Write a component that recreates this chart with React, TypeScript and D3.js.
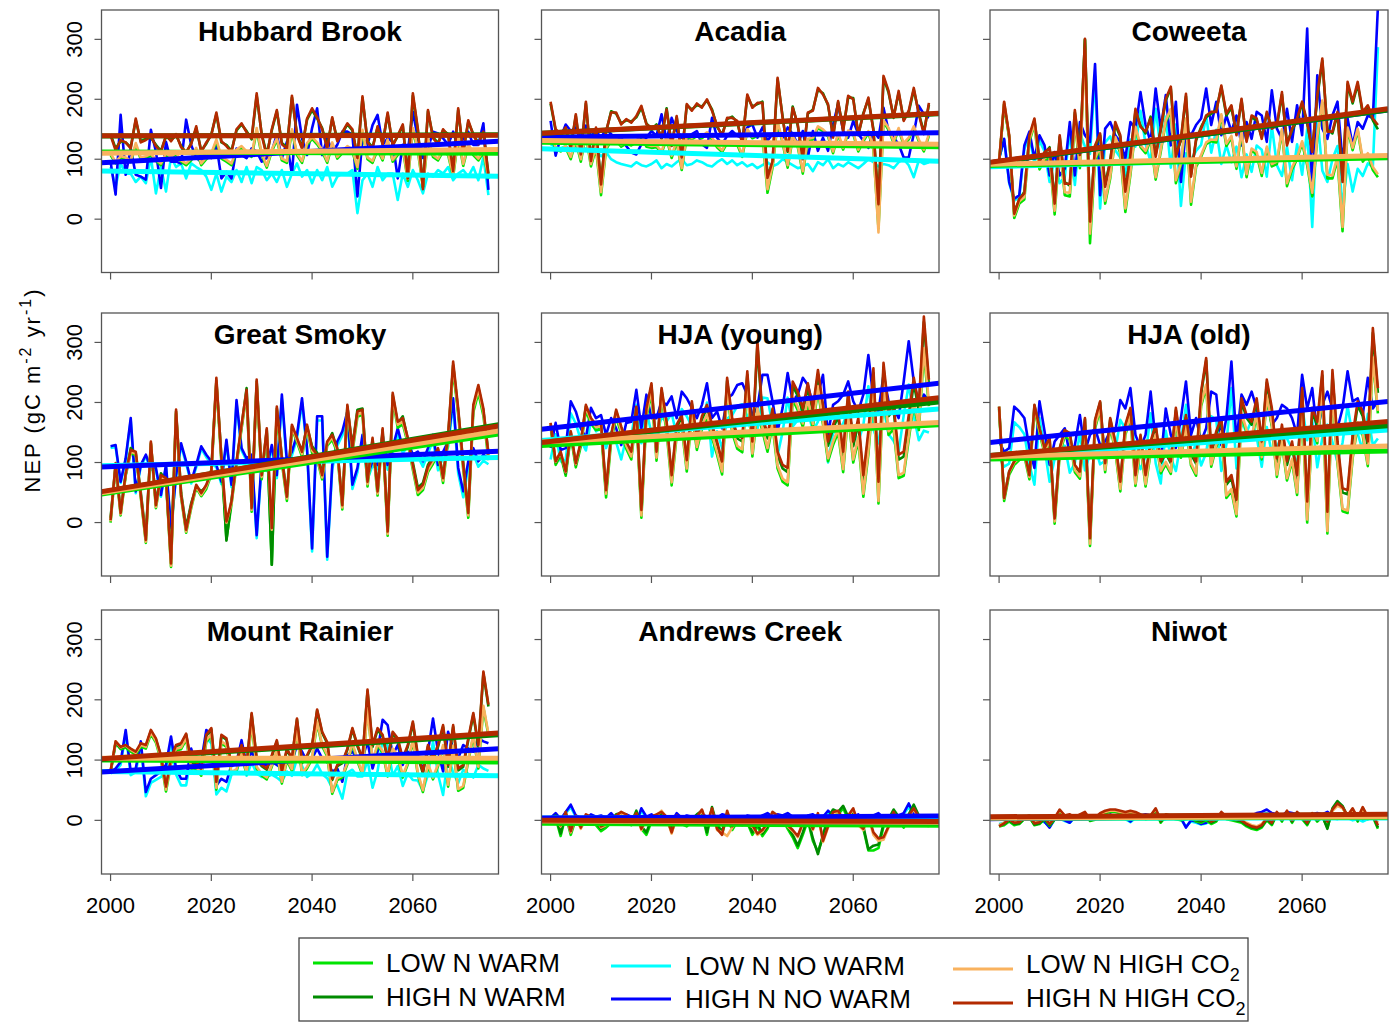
import React from 'react';
import * as d3 from 'd3';

const W = 1396;
const H = 1022;
const FONT = '"Liberation Sans", Arial, Helvetica, sans-serif';

const years = d3.range(2000, 2076);
const scenarios = ['LOW N WARM', 'HIGH N WARM', 'LOW N NO WARM', 'HIGH N NO WARM', 'LOW N HIGH CO2', 'HIGH N HIGH CO2'];
const scenarioColors = ['#00E400', '#008B00', '#00FFFF', '#0000FF', '#F9B25E', '#B32A00'];
// thin lines and trends are drawn in this order (last on top)
const drawOrder = [2, 3, 0, 1, 4, 5];

const xTicks = [2000, 2020, 2040, 2060];
const yTicks = [0, 100, 200, 300];

// series order in every site: same as scenarios
const hubbardBrook = [
  [107,93,102,100,95,124,100,102,106,97,90,107,101,108,96,90,98,116,90,100,107,130,101,96,90,113,119,110,104,148,107,86,113,132,98,94,147,107,94,124,134,125,113,94,125,101,110,119,113,84,146,100,94,116,98,130,96,107,118,64,149,113,53,132,104,98,113,107,71,134,89,122,107,98,111,67],
  [142,118,130,128,120,165,130,134,136,124,114,138,132,140,122,110,127,152,114,126,142,175,128,124,114,148,158,147,133,206,142,108,148,180,127,120,203,142,120,166,182,168,152,120,168,132,143,158,148,104,202,130,120,153,127,175,124,138,156,72,206,148,54,180,137,127,148,142,82,182,112,162,142,127,144,76],
  [87,54,93,76,76,62,71,60,104,43,87,46,104,87,93,68,93,87,82,71,49,76,46,71,62,82,62,87,60,87,82,65,76,62,82,54,76,93,71,82,60,82,65,87,54,71,76,76,82,10,65,76,54,87,65,76,76,32,76,54,82,65,43,76,71,82,76,87,65,76,82,71,87,65,104,40],
  [96,41,174,74,118,74,71,66,149,113,52,129,96,96,93,166,124,102,96,113,102,124,68,79,68,118,107,102,118,113,96,102,113,141,102,129,74,191,135,107,152,185,107,135,113,124,146,146,141,38,135,124,157,174,124,135,129,68,124,113,179,135,102,118,146,143,135,124,146,118,135,146,124,124,160,49],
  [110,95,105,103,97,127,103,105,109,99,93,110,104,111,98,93,101,119,93,103,110,133,104,99,93,116,122,113,107,152,110,89,116,135,101,97,150,110,97,127,137,128,116,97,128,104,113,122,116,87,149,103,97,119,101,133,99,110,121,67,152,116,56,135,107,101,116,110,74,137,92,125,110,101,114,70],
  [140,115,132,128,118,168,128,132,138,122,112,140,130,142,120,112,125,155,112,128,140,178,130,122,112,150,160,145,135,210,140,105,150,182,125,118,206,140,118,168,185,170,150,118,170,130,145,160,150,102,205,128,118,155,125,178,122,140,158,68,210,150,50,182,135,125,150,140,80,185,110,165,140,125,146,72],
];
const hubbardTrend = [[112, 110], [139, 141], [80, 72], [95, 129], [110, 116], [139, 140]];

const acadia = [
  [141,117,113,119,100,130,96,141,88,118,40,116,131,131,121,126,123,128,137,121,119,120,110,134,102,128,82,138,133,139,135,142,133,120,112,127,127,124,104,147,135,139,139,44,86,160,127,86,135,121,76,131,133,152,147,138,110,141,116,145,142,113,130,144,116,-15,162,149,127,149,124,133,152,130,113,139],
  [193,148,140,150,120,172,110,193,100,150,62,145,180,176,160,165,163,170,186,160,150,158,134,185,124,170,106,190,183,190,188,198,183,154,141,167,171,162,128,205,188,192,196,72,94,233,171,112,188,156,103,176,183,216,210,190,139,195,150,203,202,140,177,200,150,30,236,211,171,211,166,178,216,177,145,191],
  [125,120,118,122,115,120,112,118,110,115,105,112,100,95,92,90,88,95,90,88,92,98,85,92,88,95,100,90,92,98,95,90,88,95,100,92,98,90,95,88,92,85,90,95,88,92,100,95,90,85,88,92,80,95,90,100,85,92,88,95,90,85,92,100,95,88,92,90,85,95,100,90,70,98,92,95],
  [164,106,136,158,147,153,136,156,139,147,136,150,142,131,136,122,111,108,125,136,147,139,175,131,169,147,136,131,142,147,125,119,169,136,125,139,147,139,136,153,158,136,153,131,142,147,136,153,142,125,147,103,147,114,136,114,158,192,147,136,164,142,131,119,147,136,186,147,136,125,103,103,142,189,175,169],
  [144,120,116,122,104,133,100,144,92,122,45,119,134,134,124,129,126,131,140,124,122,123,113,137,106,131,85,141,136,142,138,145,136,123,115,130,130,127,108,150,138,142,142,50,90,163,130,90,138,124,80,134,136,155,150,141,113,144,119,148,145,116,133,147,119,-22,165,152,130,152,127,136,155,133,116,142],
  [196,150,142,153,117,175,108,196,97,153,58,147,178,178,158,167,161,172,189,158,153,156,136,183,122,172,103,192,181,193,186,200,181,156,139,169,169,164,125,208,186,194,194,69,97,236,169,114,186,158,100,178,181,219,208,192,136,197,147,206,200,142,175,203,147,25,239,214,169,214,164,181,219,175,142,194],
];
const acadiaTrend = [[128, 121], [144, 175], [117, 97], [137, 144], [131, 125], [144, 176]];

const coweeta = [
  [94,192,135,2,26,33,130,157,83,98,104,8,124,40,38,162,85,299,-40,98,118,26,68,134,110,12,74,151,120,110,132,66,112,162,180,60,90,165,24,87,104,125,130,128,172,122,136,84,145,70,115,108,72,118,88,92,147,55,83,100,127,90,38,135,195,68,68,100,-20,150,115,148,96,106,82,70],
  [94,192,138,12,32,46,137,165,98,110,120,30,137,62,56,178,110,300,0,120,140,58,98,158,137,50,104,180,156,143,171,108,148,198,218,108,131,205,75,131,154,170,176,182,220,173,186,143,198,132,170,165,137,176,154,154,208,127,148,165,193,159,115,203,264,150,143,176,66,225,193,225,176,187,165,150],
  [101,133,60,31,36,117,139,93,131,113,62,100,60,70,147,57,144,121,109,238,18,128,138,115,103,73,133,121,181,125,96,184,116,171,86,158,22,110,98,114,124,173,111,149,92,123,95,121,70,108,79,123,116,71,156,90,72,121,65,125,74,150,-13,171,81,62,100,122,21,92,46,84,72,93,87,287],
  [101,134,62,34,40,123,146,101,140,123,73,112,73,84,162,73,162,140,129,259,40,151,162,140,129,101,162,151,212,157,129,218,151,207,123,196,62,151,140,157,168,218,157,196,140,173,146,173,123,162,134,179,173,129,215,151,134,184,129,190,140,318,40,240,151,134,173,196,96,168,123,162,151,173,168,354],
  [96,195,138,6,30,37,133,160,87,102,107,14,127,45,44,165,89,282,-24,102,121,31,72,137,114,18,78,154,123,114,135,70,116,165,184,65,94,168,29,91,107,128,133,132,175,126,139,88,148,75,118,112,77,121,92,96,150,60,87,103,130,95,44,138,198,74,73,105,-13,153,119,151,100,110,87,75],
  [96,196,140,9,34,43,140,168,96,112,118,26,140,59,59,182,107,301,-4,123,143,54,96,162,140,46,107,184,154,146,168,104,151,201,221,104,134,209,71,134,151,173,179,179,223,176,190,140,201,129,173,168,134,179,151,157,212,123,151,168,196,162,112,207,268,146,146,179,62,229,196,229,179,190,168,157],
];
const coweetaTrend = [[90, 102], [96, 180], [88, 104], [96, 180], [92, 106], [97, 182]];

const greatSmoky = [
  [0,94,12,78,116,112,42,-34,130,24,74,70,-74,181,42,-17,24,58,44,56,80,232,100,-28,30,96,156,214,18,230,72,150,-70,186,100,36,156,134,110,156,116,106,72,128,138,116,22,187,116,176,180,60,133,45,148,-22,206,158,164,132,88,46,54,84,98,114,66,136,256,180,88,8,184,216,178,104],
  [8,96,20,80,124,115,50,-22,132,32,82,70,-60,185,50,-8,32,60,52,60,88,236,110,-30,38,100,160,224,28,235,82,154,-70,190,110,46,160,138,120,160,127,116,82,132,149,121,32,193,127,188,190,72,138,56,154,-12,212,165,177,138,100,58,66,96,110,121,78,143,262,186,100,20,192,225,186,116],
  [124,126,66,104,170,49,93,110,88,88,43,93,-12,76,128,98,65,92,123,109,98,92,64,133,59,199,120,103,108,-26,97,86,124,74,206,96,112,140,200,118,-48,170,170,-62,89,128,145,178,56,84,138,72,95,89,138,88,116,149,116,127,105,110,93,115,137,87,109,126,198,82,42,93,114,93,103,97],
  [127,129,68,107,174,52,96,113,91,91,46,96,-9,79,132,102,68,96,127,113,102,96,68,138,63,204,124,107,113,-21,102,91,129,79,213,102,118,146,207,124,-43,177,177,-57,96,135,152,185,63,91,146,79,102,96,146,96,124,157,124,135,113,118,102,124,146,96,118,135,207,91,52,102,124,102,113,107],
  [2,96,14,80,118,115,44,-32,133,26,76,72,-72,184,44,-15,26,60,46,60,82,236,104,0,32,99,159,217,21,233,76,153,-12,189,104,40,159,137,114,159,120,109,75,131,142,120,25,191,120,180,183,64,137,48,152,-19,210,163,168,136,92,50,58,88,102,119,70,141,262,185,92,12,190,222,184,110],
  [4,99,16,82,121,118,46,-29,135,29,79,74,-68,188,46,-12,29,63,49,63,85,241,107,2,35,102,163,221,24,238,79,157,-9,193,107,43,163,141,118,163,124,113,79,135,146,124,29,196,124,185,188,68,141,52,157,-15,216,168,174,141,96,54,63,93,107,124,74,146,268,190,96,16,196,229,190,113],
];
const greatSmokyTrend = [[50, 145], [53, 160], [95, 108], [93, 118], [52, 150], [54, 158]];

const hjaYoung = [
  [160,96,112,78,145,92,127,186,165,154,156,42,135,176,148,123,105,180,8,175,216,103,208,151,62,145,160,85,182,121,156,174,142,113,80,217,150,123,117,226,110,184,152,118,162,90,68,62,205,187,159,200,158,221,163,102,129,150,84,182,100,137,43,114,219,32,227,146,156,74,78,138,198,154,282,194],
  [163,100,115,82,150,96,132,193,172,160,163,50,143,185,157,132,114,190,16,186,228,114,220,164,75,158,175,100,198,136,172,191,158,130,97,236,168,140,135,246,129,296,173,140,184,112,90,84,228,211,183,225,183,247,189,128,156,177,110,210,127,166,70,144,249,60,258,177,188,105,110,170,232,187,334,229],
  [105,147,102,104,182,165,137,120,170,152,157,124,151,134,105,142,144,196,132,187,148,147,175,168,182,145,189,177,161,143,165,200,110,152,124,173,179,194,197,177,143,154,208,207,163,112,151,208,160,171,198,186,152,168,200,100,149,154,165,186,152,135,162,227,155,132,192,147,136,118,178,230,177,137,153,150],
  [124,166,121,124,202,185,157,141,191,174,179,146,174,157,129,166,168,221,157,213,174,174,202,196,210,174,218,207,191,174,196,232,174,185,157,207,213,229,232,213,179,191,246,246,202,152,191,249,202,213,241,229,196,213,246,146,196,202,213,235,202,185,213,279,207,185,246,202,191,174,235,302,235,196,213,202],
  [166,101,117,84,150,97,132,192,170,159,161,48,140,182,153,128,110,185,12,180,222,108,213,157,67,150,166,90,188,126,162,180,147,118,85,223,156,128,122,232,115,190,158,124,168,95,73,67,211,193,165,206,164,227,169,107,135,156,89,188,105,143,48,120,225,36,233,152,162,79,83,144,205,160,290,200],
  [166,102,118,85,152,99,135,196,174,163,166,54,146,188,160,135,118,193,21,190,232,118,224,168,79,163,179,104,202,141,177,196,163,135,102,241,174,146,141,252,135,302,179,146,190,118,96,91,235,218,190,232,190,254,196,135,163,185,118,218,135,174,79,152,257,68,266,185,196,113,118,179,241,196,343,238],
];
const hjaYoungTrend = [[129, 162], [135, 199], [138, 188], [157, 230], [135, 166], [135, 206]];

const hjaOld = [
  [189,36,80,96,104,111,72,188,149,115,132,-2,114,144,138,84,73,161,-39,157,188,84,159,119,52,146,174,61,128,60,116,143,82,97,81,169,108,156,95,78,194,226,93,126,148,41,52,10,179,150,139,177,105,207,160,76,131,70,102,46,190,0,156,132,216,-18,217,98,19,16,107,163,145,94,271,182],
  [193,41,85,102,110,118,78,195,156,123,140,6,123,153,148,94,83,172,-28,169,200,97,172,133,66,160,188,76,143,76,132,160,99,115,99,187,126,175,114,98,214,270,114,148,170,63,74,33,202,174,163,202,130,233,185,101,157,96,129,73,218,28,184,161,245,11,247,128,50,47,139,195,177,127,316,216],
  [110,93,98,167,159,147,97,63,174,124,68,106,117,128,83,99,149,87,115,126,97,103,120,119,171,156,190,111,89,110,182,99,65,153,108,86,135,196,107,134,95,116,177,171,86,130,224,90,168,150,171,143,93,159,114,125,146,140,123,94,194,137,170,92,141,163,134,100,133,194,144,148,120,181,129,140],
  [135,118,124,193,185,174,124,91,202,152,96,135,146,157,113,129,179,118,146,157,129,135,152,152,204,190,224,146,124,146,218,135,102,190,146,124,174,235,146,174,135,157,218,213,129,174,268,135,213,196,218,190,140,207,163,174,196,190,174,146,246,190,224,146,196,218,190,157,190,252,202,207,179,241,190,202],
  [193,40,84,100,108,115,76,192,153,119,136,2,118,148,142,88,77,165,-35,161,192,88,163,123,56,150,178,65,132,64,120,147,86,101,85,173,112,160,99,82,198,230,97,130,152,45,56,14,183,154,143,181,109,211,164,80,135,74,106,50,194,5,160,136,220,-14,221,102,23,20,111,167,149,98,275,186],
  [193,41,85,102,110,118,79,196,157,124,141,7,124,154,149,96,85,174,-26,171,202,99,174,135,68,163,191,79,146,79,135,163,102,118,102,191,130,179,118,102,218,274,118,152,174,68,79,38,207,179,168,207,135,238,191,107,163,102,135,79,224,35,191,168,252,18,254,135,57,54,146,202,185,135,324,224],
];
const hjaOldTrend = [[106, 119], [113, 160], [110, 153], [135, 200], [110, 127], [113, 167]];

const mountRainier = [
  [79,128,118,121,114,109,122,119,143,129,100,48,94,116,118,134,86,86,74,130,140,51,128,122,77,82,109,76,161,86,74,68,89,114,61,99,82,148,75,86,102,161,123,106,44,67,71,93,126,98,75,189,96,124,112,73,116,105,71,93,131,75,47,91,68,90,122,56,121,49,54,98,139,86,187,141],
  [80,129,120,123,117,112,126,123,148,134,106,54,101,123,126,142,95,95,84,140,151,62,140,134,90,95,123,90,176,101,90,84,106,131,79,117,101,167,95,106,123,182,145,128,67,90,95,117,151,123,101,214,122,150,139,100,144,133,100,122,161,105,78,122,100,122,155,89,155,83,89,133,175,122,244,189],
  [78,82,92,144,75,80,124,40,62,67,72,83,130,76,58,58,107,80,84,136,128,43,54,48,76,80,116,74,96,78,72,72,76,71,64,81,74,102,90,72,78,93,77,70,54,58,36,79,84,73,73,100,54,82,134,124,74,90,57,78,67,66,49,76,131,76,42,107,79,62,84,77,71,92,86,82],
  [81,86,97,150,81,86,131,47,69,75,81,92,139,86,69,69,119,92,97,150,142,58,69,64,92,97,133,92,114,97,92,92,97,92,86,103,97,125,114,97,103,119,103,97,81,86,64,108,114,103,103,131,86,114,167,158,108,125,92,114,103,103,86,114,169,114,81,147,119,103,125,119,114,136,131,128],
  [82,131,121,124,117,112,125,122,146,132,103,51,97,119,121,137,89,89,77,133,143,54,131,125,80,85,112,79,164,89,77,71,92,117,64,102,85,151,78,89,105,164,126,109,47,70,74,96,129,101,78,186,99,127,115,76,119,108,74,96,134,78,50,94,71,93,125,59,124,52,57,101,142,89,190,144],
  [82,131,122,125,119,114,128,125,150,136,108,56,103,125,128,144,97,97,86,142,153,64,142,136,92,97,125,92,178,103,92,86,108,133,81,119,103,169,97,108,125,184,147,130,69,92,97,119,153,125,103,217,125,153,142,103,147,136,103,125,164,108,81,125,103,125,158,92,158,86,92,136,178,125,247,192],
];
const mountRainierTrend = [[100, 97], [102, 141], [81, 74], [81, 118], [103, 103], [103, 144]];

const andrewsCreek = [
  [-2,4,-26,8,-24,2,-12,0,-2,-8,-18,-12,-4,6,8,2,-8,12,-14,-24,-2,4,6,0,-18,2,-6,-10,-2,6,12,-24,18,-12,-22,6,-16,-2,-8,-4,-24,-10,-26,-14,8,0,2,-14,-28,-46,-24,0,-34,-52,-28,0,14,10,20,2,8,-4,-14,-50,-50,-46,-10,-2,14,2,-12,6,22,4,-4,-10],
  [2,8,-22,12,-20,6,-8,4,2,-4,-14,-8,0,10,12,6,-4,16,-10,-20,2,8,10,4,-14,6,-2,-6,2,10,16,-20,22,-8,-18,10,-12,2,-4,0,-20,-6,-22,-10,12,4,6,-10,-24,-42,-20,4,-30,-56,-24,4,18,14,24,6,12,0,-10,-48,-42,-40,-6,2,18,6,-8,10,26,8,0,-6],
  [2,10,0,12,22,6,2,0,8,4,6,2,10,0,6,8,4,-6,16,4,8,2,6,4,-4,10,2,6,4,2,8,4,6,2,8,6,4,2,0,6,4,2,6,10,4,8,6,10,4,2,-4,6,8,2,4,14,6,8,2,6,4,8,-6,4,6,10,2,4,8,6,10,22,8,4,6,4],
  [4,12,2,14,26,8,4,2,10,6,8,4,12,2,8,10,6,-4,20,6,10,4,8,6,-2,12,4,8,6,4,10,6,8,4,10,8,6,4,2,8,6,4,8,12,6,10,8,12,6,4,-2,8,10,4,6,16,8,10,4,8,6,10,-4,6,8,12,4,6,10,8,12,28,10,6,8,6],
  [-2,2,-10,12,-20,6,-14,8,4,0,-12,-8,0,6,12,8,-4,10,-16,2,4,8,16,4,-22,6,0,-2,-6,4,16,-8,18,-16,-20,-26,-12,2,-2,-8,-10,-24,-18,-6,12,6,-2,-10,-18,-28,-6,4,-16,10,-36,-12,12,14,0,6,18,-8,-16,6,-24,-34,-32,-12,12,-6,-8,6,18,4,-4,-6],
  [0,5,-8,14,-18,8,-12,10,6,2,-10,-6,2,8,14,10,-2,12,-14,4,6,10,14,6,-20,8,2,0,-4,6,18,-6,20,-14,-24,16,-10,4,0,-6,-8,-22,-16,-4,14,8,0,-8,-16,-26,-4,6,-14,12,-34,-10,14,16,2,8,20,-6,-14,8,-20,-30,-28,-10,14,-4,-6,8,20,6,-2,-4],
];
const andrewsCreekTrend = [[-5, -8], [-2, -4], [4, 5], [4, 7], [-1, -3], [0, -2]];

const niwot = [
  [-10,-8,-2,-8,-6,2,5,-8,-6,2,-9,1,14,5,7,2,7,11,-1,1,8,12,14,14,12,10,12,10,6,2,4,16,-4,6,4,2,0,2,4,-2,-4,0,-6,-2,10,2,0,-2,-4,-10,-14,-16,-12,0,-8,10,-2,12,-4,10,2,-8,8,-2,6,-12,18,30,22,4,16,-2,18,2,6,-14],
  [-8,-6,0,-6,-5,3,6,-7,-5,3,-8,2,16,6,8,3,8,12,0,2,10,14,16,16,14,12,14,12,8,4,6,18,-2,8,6,4,2,4,6,0,-2,2,-4,0,12,4,2,0,-2,-8,-12,-14,-10,2,-6,12,0,14,-2,12,4,-6,10,0,8,-14,20,32,24,6,18,0,20,4,8,-12],
  [-6,-4,1,2,3,3,5,1,-1,-3,-10,1,3,-1,-4,5,5,3,5,6,6,4,8,4,6,2,-3,4,6,8,6,4,0,2,6,4,2,-10,-2,-4,-7,-5,0,4,6,8,8,2,4,8,6,9,10,12,8,6,4,10,8,6,4,2,6,8,6,10,4,2,6,4,0,2,-2,2,4,2],
  [-8,-6,0,2,4,4,6,2,0,-2,-12,2,4,0,-4,6,6,4,6,8,8,6,10,6,8,4,-2,6,8,10,8,6,2,4,8,6,4,-12,0,-2,-6,-4,2,6,8,10,10,4,6,10,8,12,14,18,12,10,8,14,12,10,8,6,10,12,10,14,8,6,10,8,4,6,2,6,8,6],
  [-8,-4,2,-3,-2,5,7,-4,-2,5,-5,4,16,8,9,5,9,12,2,4,10,14,16,16,14,12,14,12,9,6,8,18,1,9,7,6,4,6,7,2,1,4,-1,2,12,6,4,2,1,-4,-8,-10,-6,4,-2,12,2,14,1,12,6,-2,10,2,9,0,16,24,20,8,18,4,18,6,9,-4],
  [-10,-5,2,-4,-3,5,8,-5,-3,5,-6,4,18,8,10,5,10,14,2,4,12,16,18,18,16,14,16,14,10,6,8,20,0,10,8,6,4,6,8,2,0,4,-2,2,14,6,4,2,0,-6,-10,-12,-8,4,-4,14,2,16,0,14,6,-4,12,2,10,-2,18,28,22,8,20,4,22,6,10,-8],
];
const niwotTrend = [[4, 5], [5, 9], [3, 4], [3, 9], [4, 6], [6, 10]];

const sites = [
  { name: 'Hubbard Brook', series: hubbardBrook, trend: hubbardTrend },
  { name: 'Acadia', series: acadia, trend: acadiaTrend },
  { name: 'Coweeta', series: coweeta, trend: coweetaTrend },
  { name: 'Great Smoky', series: greatSmoky, trend: greatSmokyTrend },
  { name: 'HJA (young)', series: hjaYoung, trend: hjaYoungTrend },
  { name: 'HJA (old)', series: hjaOld, trend: hjaOldTrend },
  { name: 'Mount Rainier', series: mountRainier, trend: mountRainierTrend },
  { name: 'Andrews Creek', series: andrewsCreek, trend: andrewsCreekTrend },
  { name: 'Niwot', series: niwot, trend: niwotTrend },
];

// panel boxes
const colLeft = [101.5, 541.5, 990];
const colRight = [498.5, 939, 1388];
const rowTop = [10, 313, 610];
const rowBottom = [272.5, 576, 874];
const xDomain = [1998.2, 2077];
const yDomain = [-89, 349];

type Site = typeof sites[number];

function Panel({ site, idx }: { site: Site; idx: number }) {
  const col = idx % 3;
  const row = Math.floor(idx / 3);
  const x = d3.scaleLinear().domain(xDomain).range([colLeft[col], colRight[col]]);
  const y = d3.scaleLinear().domain(yDomain).range([rowBottom[row], rowTop[row]]);
  const line = d3.line<number>().x((_, i) => x(years[i])).y(d => y(d));
  const clipId = `clip-${idx}`;
  const left = colLeft[col];
  const top = rowTop[row];
  const bottom = rowBottom[row];
  const right = colRight[col];

  return (
    <g>
      <defs>
        <clipPath id={clipId}>
          <rect x={left} y={top} width={right - left} height={bottom - top} />
        </clipPath>
      </defs>
      <g clipPath={`url(#${clipId})`} fill="none" strokeLinejoin="round">
        {drawOrder.map(s => (
          <path key={`s${s}`} d={line(site.series[s]) || ''} stroke={scenarioColors[s]} strokeWidth={2.6} />
        ))}
        {drawOrder.map(s => {
          const tr = d3.scaleLinear().domain([2000, 2075]).range(site.trend[s]);
          return (
            <line key={`t${s}`} x1={x(xDomain[0])} x2={x(xDomain[1])}
              y1={y(tr(xDomain[0]))} y2={y(tr(xDomain[1]))}
              stroke={scenarioColors[s]} strokeWidth={5} />
          );
        })}
      </g>
      <rect x={left} y={top} width={right - left} height={bottom - top} fill="none" stroke="#555" strokeWidth={1.3} />
      {yTicks.map(t => (
        <line key={`yt${t}`} x1={left - 7} x2={left} y1={y(t)} y2={y(t)} stroke="#555" strokeWidth={1.2} />
      ))}
      {xTicks.map(t => (
        <line key={`xt${t}`} x1={x(t)} x2={x(t)} y1={bottom} y2={bottom + 7} stroke="#555" strokeWidth={1.2} />
      ))}
      {col === 0 && yTicks.map(t => (
        <text key={`yl${t}`} transform={`translate(${left - 20},${y(t)}) rotate(-90)`} textAnchor="middle"
          fontSize={22} fontFamily={FONT} fill="#000">{t}</text>
      ))}
      {row === 2 && xTicks.map(t => (
        <text key={`xl${t}`} x={x(t)} y={bottom + 39} textAnchor="middle" fontSize={22} fontFamily={FONT} fill="#000">{t}</text>
      ))}
      <text x={(left + right) / 2} y={top + 31} textAnchor="middle" fontSize={28} fontWeight="bold" fontFamily={FONT} fill="#000">
        {site.name}
      </text>
    </g>
  );
}

// legend layout: column, row per scenario
const legendCol = [0, 0, 1, 1, 2, 2];
const legendRow = [0, 1, 0, 1, 0, 1];
const legendLineX = [313, 611, 953];
const legendTextX = [386, 685, 1026];
const legendLineY = [[963, 997], [966, 999], [969, 1003]];
const legendTextY = [[972, 1006], [975, 1008], [973, 1007]];

function Legend() {
  return (
    <g>
      <rect x={299} y={938} width={949} height={83} fill="#fff" stroke="#444" strokeWidth={1.3} />
      {scenarios.map((name, i) => {
        const c = legendCol[i];
        const r = legendRow[i];
        const isCO2 = name.endsWith('CO2');
        return (
          <g key={name}>
            <line x1={legendLineX[c]} x2={legendLineX[c] + 60} y1={legendLineY[c][r]} y2={legendLineY[c][r]}
              stroke={scenarioColors[i]} strokeWidth={3} />
            <text x={legendTextX[c]} y={legendTextY[c][r]} fontSize={26} fontFamily={FONT} fill="#000">
              {isCO2 ? name.slice(0, -1) : name}
              {isCO2 && <tspan fontSize={18} dy={8}>2</tspan>}
            </text>
          </g>
        );
      })}
    </g>
  );
}

export default function App() {
  return (
    <div style={{ position: 'absolute', left: 0, top: 0 }}>
      <svg width={W} height={H} viewBox={`0 0 ${W} ${H}`} style={{ display: 'block', background: '#fff' }}>
        <rect width={W} height={H} fill="#fff" />
        {sites.map((s, i) => <Panel key={s.name} site={s} idx={i} />)}
        <text transform="translate(40,391) rotate(-90)" textAnchor="middle" fontSize={22} fontFamily={FONT}
          fill="#000" textLength={203} lengthAdjust="spacing">
          NEP (gC m<tspan dy={-9} fontSize={16}>-2</tspan><tspan dy={9}> yr</tspan><tspan dy={-9} fontSize={16}>-1</tspan><tspan dy={9}>)</tspan>
        </text>
        <Legend />
      </svg>
    </div>
  );
}
